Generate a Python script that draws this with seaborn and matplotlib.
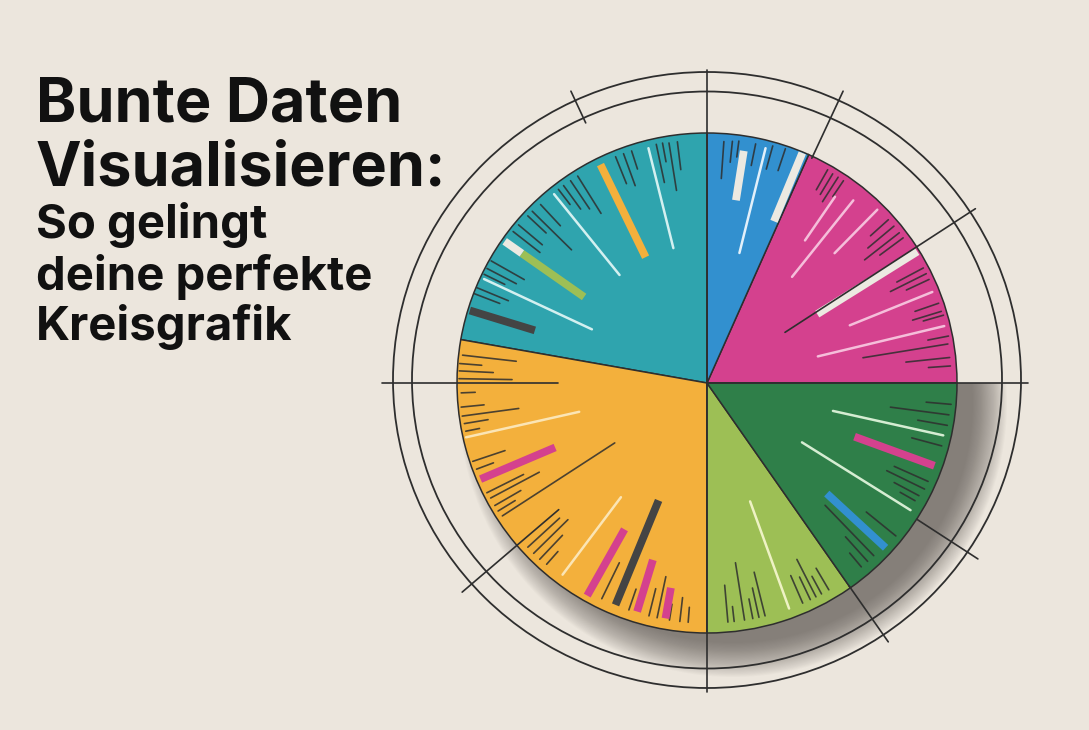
import numpy as np
import matplotlib.pyplot as plt
from matplotlib.patches import Circle, Ellipse, Rectangle
import seaborn as sns

# slices, counter-clockwise starting at 3 o'clock
slices = ['Rosa', 'Blau', 'Tuerkis', 'Orange', 'Hellgruen', 'Dunkelgruen']
shares = [66, 24, 80, 100, 35, 55]
colors = ['#D4418E', '#3290CF', '#2FA4AE', '#F3B03C', '#9DBF55', '#2F7F49']

title_lines = ['Bunte Daten', 'Visualisieren:']
subtitle_lines = ['So gelingt', 'deine perfekte', 'Kreisgrafik']

# decorative strokes inside the pie: (angle deg, inner r, outer r)
dark_ticks = [
    # tuerkis
    (97, 215, 243), (99, 195, 243), (100.5, 225, 244), (102, 205, 244),
    (108, 225, 244), (110, 210, 244), (112, 215, 244),
    (122, 200, 244), (124, 210, 244), (126, 215, 244), (127.5, 225, 244),
    (133, 215, 244), (135.5, 190, 245), (137, 220, 245), (140, 215, 246),
    (142, 212, 246), (150.5, 210, 248), (152.5, 215, 248), (154, 225, 248),
    (157.5, 215, 249), (159, 222, 249),
    # blau
    (86, 205, 242), (84, 222, 243), (82.5, 228, 244), (78.5, 222, 244),
    (74.5, 222, 246), (71.5, 224, 247),
    # rosa
    (60.5, 222, 245), (59, 220, 244), (57.5, 215, 244), (56, 225, 244),
    (42, 220, 244), (40, 210, 244), (38, 200, 244), (36.5, 215, 244),
    (28, 215, 245), (26.5, 205, 245), (25, 220, 245),
    (19, 220, 245), (17, 215, 245), (16, 225, 246),
    (11, 225, 246), (9.2, 158, 244), (6, 200, 244), (4, 222, 244),
    # dunkelgruen
    (-5, 220, 245), (-7.5, 185, 244), (-10, 214, 244), (-15, 212, 243),
    (-24, 205, 242), (-26, 200, 242), (-28, 212, 240), (-29.5, 222, 239),
    (-39, 205, 243), (-46, 170, 240), (-48, 207, 240), (-50, 222, 240),
    # hellgruen
    (-85, 203, 240), (-83.5, 225, 240), (-81, 182, 240), (-79, 220, 240),
    (-77.5, 210, 240), (-76, 195, 240),
    (-66.5, 210, 240), (-64.5, 215, 240), (-63, 198, 240), (-61.5, 220, 240),
    (-59.5, 215, 240),
    # orange
    (173.5, 192, 246), (175.5, 226, 248), (177.2, 214, 248), (179, 195, 248),
    (182.3, 232, 246), (185.6, 224, 247), (187.7, 190, 247), (189.5, 222, 246),
    (191.3, 232, 246), (198.5, 213, 247), (200.5, 228, 246),
    (206.5, 205, 246), (208, 190, 245), (210, 215, 245), (211.5, 225, 245),
    (213, 110, 244),
    (222.5, 200, 243), (224.5, 195, 243), (226.5, 210, 243), (228.5, 225, 242),
    (244, 200, 240), (251, 218, 240), (256, 212, 240), (258, 198, 240),
    (261, 224, 240), (263.5, 216, 240), (265.5, 225, 240),
]

light_lines = [
    (104, 139, 242, '#D3F0F0'), (129, 139, 243, '#D3F0F0'), (155, 127, 246, '#D3F0F0'),
    (76, 134, 242, '#E2F0FA'),
    (55.5, 173, 226, '#F5BEDA'), (51.3, 136, 234, '#F5BEDA'), (45.5, 182, 243, '#F5BEDA'),
    (22, 154, 243, '#F5BEDA'), (13.5, 114, 244, '#F5BEDA'),
    (-12.5, 129, 242, '#D5EDD2'), (-32, 112, 240, '#D5EDD2'),
    (-70, 126, 240, '#EEF2C4'),
    (192.7, 131, 247, '#FBE5B5'), (233, 143, 240, '#FBE5B5'),
]

bars = [
    (116, 140, 243, '#F3B03C'), (145, 150, 226, '#9DBF55'), (145, 226, 247, '#ECE9E1'),
    (163, 180, 248, '#444444'),
    (81, 185, 235, '#ECE9E1'), (67.5, 175, 249, '#ECE9E1'),
    (32, 130, 248, '#ECE9E1'),
    (-20, 157, 242, '#D4418E'), (-42.7, 163, 243, '#3290CF'),
    (203, 165, 246, '#D4418E'), (240.6, 168, 244, '#D4418E'),
    (247.6, 127, 240, '#444444'), (253, 185, 239, '#D4418E'), (260, 208, 239, '#D4418E'),
]

# construction lines running out past the pie
guide_lines = [
    (180, 149, 325), (0, 0, 321), (90, 0, 313), (270, 0, 309),
    (33, 93, 320), (220.5, 195, 322), (115, 287, 322), (65, 248, 322),
    (-33, 250, 323), (-55, 248, 316),
]

bg = '#ECE6DD'
ink = '#2E2E2E'
cx, cy, rad = 707, 347, 250

sns.set_theme(style='white', rc={'figure.facecolor': bg, 'axes.facecolor': bg})
plt.rcParams['font.family'] = ['Inter', 'DejaVu Sans']

fig = plt.figure(figsize=(10.89, 7.30), dpi=100)
ax = fig.add_axes([0, 0, 1, 1])

# soft drop shadow to the lower right
clip = Rectangle((0, 0), 1089, cy, transform=ax.transData)
for k in range(32):
    sh = Circle((cx + 26, cy - 20), rad + 24 - k * 1.1, color='#4d4845', alpha=0.028, lw=0, zorder=1)
    ax.add_patch(sh)
    sh.set_clip_path(clip)

ax.pie(shares, colors=colors, startangle=0, counterclock=True, center=(cx, cy), radius=rad,
       wedgeprops=dict(edgecolor=ink, linewidth=1.1, zorder=2))


def radial(ang, r0, r1, **kw):
    a = np.deg2rad(ang)
    ax.plot([cx + r0 * np.cos(a), cx + r1 * np.cos(a)],
            [cy + r0 * np.sin(a), cy + r1 * np.sin(a)], **kw)


for ang, r0, r1 in dark_ticks:
    radial(ang, r0, r1, color=ink, lw=1.2, alpha=0.85, zorder=3)
for ang, r0, r1, c in light_lines:
    radial(ang, r0, r1, color=c, lw=1.8, zorder=3)
for ang, r0, r1, c in bars:
    radial(ang, r0, r1, color=c, lw=5.6, solid_capstyle='butt', zorder=4)
for ang, r0, r1 in guide_lines:
    radial(ang, r0, r1, color=ink, lw=1.2, zorder=5)

# rings round the pie
for w, h in [(590, 577), (628, 616)]:
    ax.add_patch(Ellipse((707, 350), w, h, fill=False, ec=ink, lw=1.3, zorder=5))

ax.set_xlim(0, 1089)
ax.set_ylim(0, 730)
ax.set_aspect('equal')
ax.axis('off')

# headline
for line, base in zip(title_lines, [121, 185]):
    fig.text(36 / 1089, 1 - base / 730, line, fontsize=44, fontweight='bold',
             color='#111111', va='baseline', ha='left')
for line, base in zip(subtitle_lines, [238, 290, 340]):
    fig.text(36 / 1089, 1 - base / 730, line, fontsize=34, fontweight='bold',
             color='#111111', va='baseline', ha='left')

fig.savefig('out.png', dpi=100, facecolor=bg)
